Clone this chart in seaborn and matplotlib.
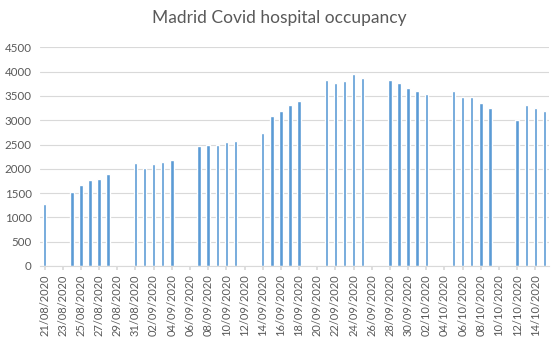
import matplotlib
matplotlib.use("Agg")
import matplotlib.pyplot as plt
import seaborn as sns
import pandas as pd
import numpy as np

# ---- data ----
dates = [
    "21/08/2020", "24/08/2020", "25/08/2020", "26/08/2020", "27/08/2020", "28/08/2020",
    "31/08/2020", "01/09/2020", "02/09/2020", "03/09/2020", "04/09/2020",
    "07/09/2020", "08/09/2020", "09/09/2020", "10/09/2020", "11/09/2020",
    "14/09/2020", "15/09/2020", "16/09/2020", "17/09/2020", "18/09/2020",
    "21/09/2020", "22/09/2020", "23/09/2020", "24/09/2020", "25/09/2020",
    "28/09/2020", "29/09/2020", "30/09/2020", "01/10/2020", "02/10/2020",
    "05/10/2020", "06/10/2020", "07/10/2020", "08/10/2020", "09/10/2020",
    "12/10/2020", "13/10/2020", "14/10/2020", "15/10/2020",
]
occupancy = [
    1285, 1523, 1667, 1770, 1790, 1893,
    2120, 2024, 2099, 2140, 2181,
    2476, 2490, 2490, 2552, 2572,
    2737, 3087, 3190, 3313, 3396,
    3828, 3766, 3807, 3951, 3869,
    3828, 3766, 3663, 3601, 3540,
    3601, 3478, 3478, 3354, 3252,
    3005, 3313, 3252, 3190,
]
y_ticks = [0, 500, 1000, 1500, 2000, 2500, 3000, 3500, 4000, 4500]
title = "Madrid Covid hospital occupancy"

all_days = pd.date_range("2020-08-21", "2020-10-15", freq="D").strftime("%d/%m/%Y").tolist()
df = pd.DataFrame({"date": dates, "value": occupancy})

sns.set_theme(style="white")
plt.rcParams["font.family"] = ["Lato", "DejaVu Sans"]

fig = plt.figure(figsize=(5.58, 3.40), dpi=100)
ax = fig.add_axes([40 / 558, 1 - 266 / 340, (549 - 40) / 558, (266 - 47.3) / 340])

sns.barplot(data=df, x="date", y="value", order=all_days, color="#5B9BD5",
            saturation=1, width=0.38, ax=ax)

ax.set_xlim(-0.5, len(all_days) - 0.5)
ax.set_ylim(0, 4500)
ax.set_yticks(y_ticks)
ax.set_yticklabels([str(v) for v in y_ticks])
ax.yaxis.grid(True, color="#D9D9D9", linewidth=0.8)
ax.set_axisbelow(True)

tick_pos = list(range(0, len(all_days), 2))
ax.set_xticks(tick_pos)
ax.set_xticklabels([all_days[i] for i in tick_pos], rotation=90)
ax.tick_params(axis="x", length=3, color="#D9D9D9", labelsize=8, labelcolor="#595959", pad=3, bottom=True)
ax.tick_params(axis="y", length=0, labelsize=8.3, labelcolor="#595959", pad=6)

for s in ["top", "right", "left"]:
    ax.spines[s].set_visible(False)
ax.spines["bottom"].set_color("#D9D9D9")
ax.spines["bottom"].set_linewidth(0.8)

ax.set_xlabel("")
ax.set_ylabel("")
fig.text(0.5, 1 - 18 / 340, title, ha="center", va="center", fontsize=12.5, color="#595959")

fig.savefig("out.png", dpi=100)
